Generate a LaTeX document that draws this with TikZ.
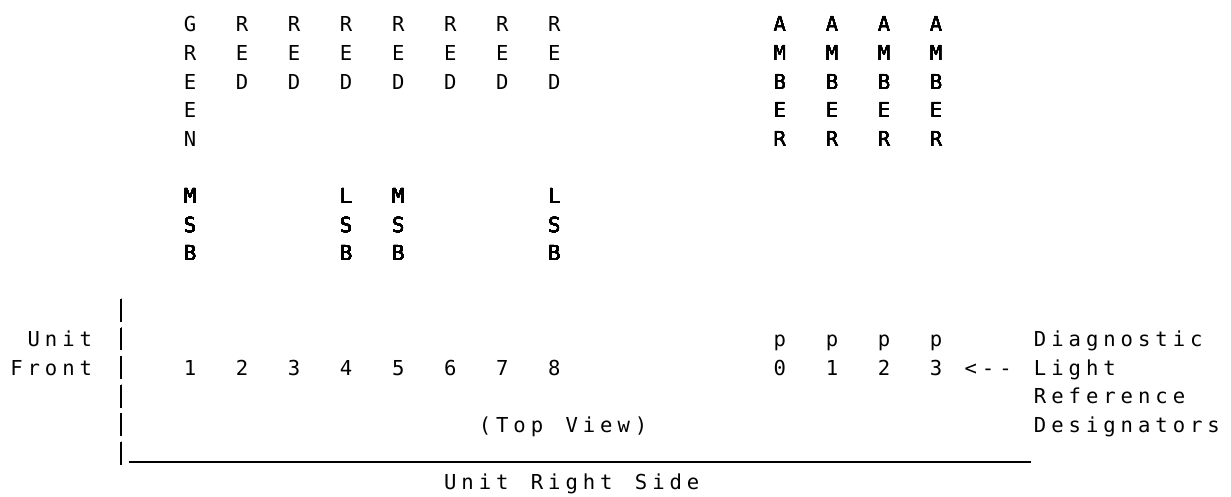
\documentclass[tikz,border=0pt]{standalone}
\usepackage{fontspec}
\newfontfamily\panelfont{DejaVu Sans Mono}

\tikzset{
  cell/.style={anchor=base, yshift=-3.75pt, inner sep=0pt,
    font=\panelfont\fontsize{10.3}{12}\selectfont},
  rule/.style={line width=1pt},
}
% one letter per grid cell: column, row, name, letters
\newcommand\downword[4]{%
  \foreach \ch [count=\k from 0] in {#4} \node[cell] (#3-\k) at (#1,{#2+\k}) {\ch};}
\newcommand\acrossword[4]{%
  \foreach \ch [count=\k from 0] in {#4} \node[cell] (#3-\k) at ({#1+\k},#2) {\ch};}

\begin{document}
\begin{tikzpicture}[x=8.675pt,y=-14.3pt]
  \useasboundingbox (-0.951,-0.853) rectangle (70.0,16.49);
  % lamp colours
  \downword{10}{0}{green}{G,R,E,E,N}
  \foreach \n [count=\i from 2] in {13,16,...,31} \downword{\n}{0}{red\i}{R,E,D}
  \foreach \n [count=\i from 0] in {44,47,50,53} \downword{\n}{0}{amber\i}{A,M,B,E,R}
  % bit order
  \downword{10}{6}{msbA}{M,S,B}
  \downword{19}{6}{lsbA}{L,S,B}
  \downword{22}{6}{msbB}{M,S,B}
  \downword{31}{6}{lsbB}{L,S,B}
  % front edge
  \foreach \r in {10,...,15} \draw[rule] (6,{\r-0.4}) -- (6,{\r+0.4});
  \acrossword{1}{11}{unit}{U,n,i,t}
  \acrossword{0}{12}{front}{F,r,o,n,t}
  % lamp numbers
  \foreach \d [count=\i from 0] in {1,...,8} \node[cell] (lamp\d) at ({10+3*\i},12) {\d};
  \foreach \d [count=\i from 0] in {0,...,3} {
    \node[cell] (p\d) at ({44+3*\i},11) {p};
    \node[cell] (pnum\d) at ({44+3*\i},12) {\d};
  }
  \acrossword{55}{12}{arrow}{<,-,-}
  \acrossword{59}{11}{diag}{D,i,a,g,n,o,s,t,i,c}
  \acrossword{59}{12}{light}{L,i,g,h,t}
  \acrossword{59}{13}{refr}{R,e,f,e,r,e,n,c,e}
  \acrossword{59}{14}{desig}{D,e,s,i,g,n,a,t,o,r,s}
  % right side
  \node[cell] (topL) at (27,14) {(};
  \acrossword{28}{14}{top}{T,o,p}
  \acrossword{32}{14}{view}{V,i,e,w}
  \node[cell] (topR) at (36,14) {)};
  \draw[rule] (6.48,15.3) -- (58.47,15.3);
  \acrossword{25}{16}{sideA}{U,n,i,t}
  \acrossword{30}{16}{sideB}{R,i,g,h,t}
  \acrossword{36}{16}{sideC}{S,i,d,e}
\end{tikzpicture}
\end{document}
